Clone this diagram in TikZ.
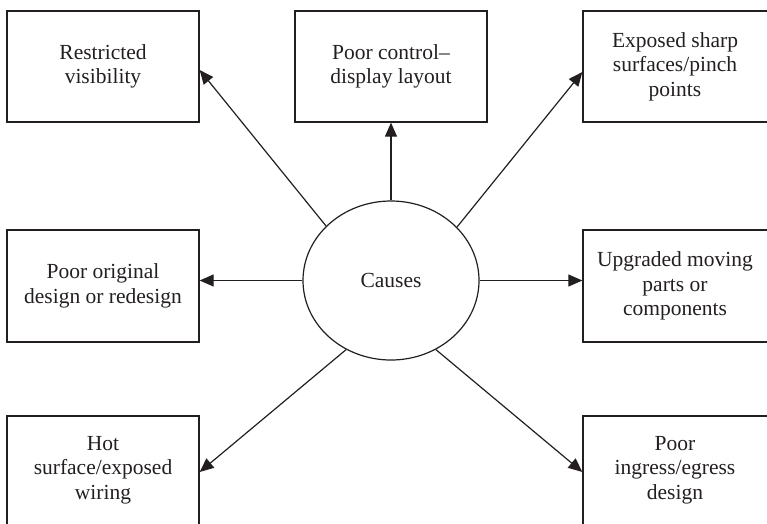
\documentclass[tikz,border=0pt]{standalone}
\usepackage{fontspec}
\setmainfont{Liberation Serif}
\usetikzlibrary{arrows.meta,shapes.geometric}
\definecolor{ink}{HTML}{231F20}
\begin{document}
\begin{tikzpicture}[x=1pt,y=-1pt,
  causebox/.style={draw=ink,line width=1.3pt,rectangle,minimum width=192pt,
    align=center,text=ink,inner sep=2pt,font=\fontsize{21.5}{24.5}\selectfont},
  boxtext/.style={text=ink,align=center,font=\fontsize{21.5}{24.5}\selectfont},
  hub/.style={draw=ink,line width=1.2pt,ellipse,minimum width=176pt,minimum height=159pt,
    inner sep=0pt,text=ink,font=\fontsize{21.5}{24.5}\selectfont},
  link/.style={draw=ink,line width=1.2pt,-{Triangle[length=14pt,width=12pt]}}]
\useasboundingbox (0,0) rectangle (767,523);
% centre
\node[hub] (c) at (391,280.5) {Causes};
% top row
\node[causebox,minimum height=111pt] (tl) at (103,66.5) {Restricted\\visibility};
\node[causebox,minimum height=111pt] (tc) at (391,66.5) {Poor control–\\display layout};
\node[causebox,minimum height=111pt] (tr) at (679,66.5) {};
\node[boxtext] (trt) at (675,66.5) {Exposed sharp\\surfaces/pinch\\points};
% middle row
\node[causebox,minimum height=112pt] (ml) at (103,286) {Poor original\\design or redesign};
\node[causebox,minimum height=112pt] (mr) at (679,286) {};
\node[boxtext] (mrt) at (675,286) {Upgraded moving\\parts or\\components};
% bottom row
\node[causebox,minimum height=112pt] (bl) at (103,472) {};
\node[boxtext] (blt) at (103,470) {Hot\\surface/exposed\\wiring};
\node[causebox,minimum height=112pt] (br) at (679,472) {};
\node[boxtext] (brt) at (675,470) {Poor\\ingress/egress\\design};
% connectors
\draw[link] (c.140) -- ([yshift=-3.5pt]tl.east);
\draw[link] (c.north) -- (tc.south);
\draw[link] (c.39) -- ([yshift=-5.5pt]tr.west);
\draw[link] (c.west) -- ([yshift=5.5pt]ml.east);
\draw[link] (c.east) -- ([yshift=5.5pt]mr.west);
\draw[link] (c.237) -- (bl.east);
\draw[link] (c.303) -- (br.west);
\end{tikzpicture}
\end{document}
